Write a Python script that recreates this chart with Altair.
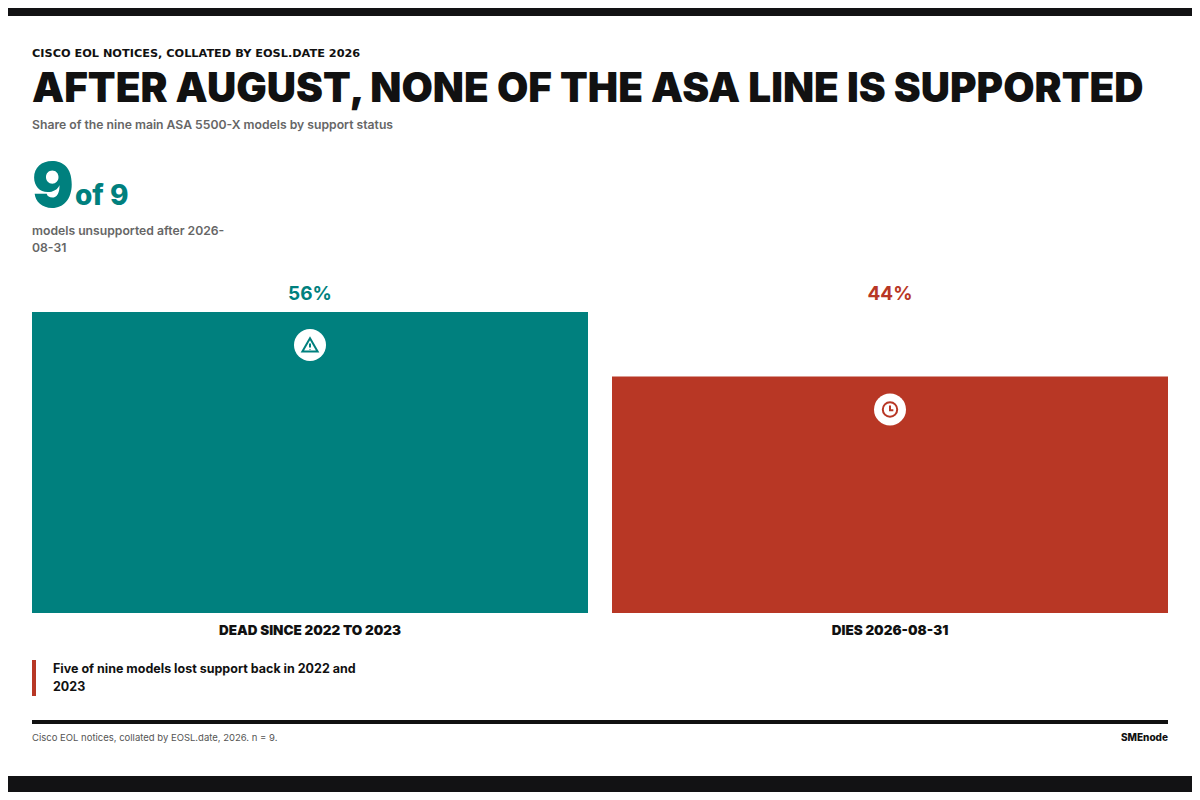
import sys
import traceback

import altair as alt
import pandas as pd

# --- data ---
categories = ["DEAD SINCE 2022 TO 2023", "DIES 2026-08-31"]
counts = [5, 4]
total_models = 9
unsupported = 9

kicker = "CISCO EOL NOTICES, COLLATED BY EOSL.DATE 2026"
headline = "AFTER AUGUST, NONE OF THE ASA LINE IS SUPPORTED"
subhead = "Share of the nine main ASA 5500-X models by support status"
stat_caption = ["models unsupported after 2026-", "08-31"]
note = ["Five of nine models lost support back in 2022 and", "2023"]
source = "Cisco EOL notices, collated by EOSL.date, 2026. n = 9."
brand = "SMEnode"

# --- style ---
TEAL = "#00807e"
RED = "#b83725"
INK = "#111111"
GREY = "#666666"
FONT = "Inter"
W, H = 1136, 301

bar_colors = alt.Scale(domain=categories, range=[TEAL, RED])
glyphs = {
    categories[0]: "M0,-0.85 L0.95,0.8 L-0.95,0.8 Z M0,-0.2 L0,0.3 M0,0.5 L0,0.56",
    categories[1]: "M-0.9,0 A0.9,0.9 0 1,0 0.9,0 A0.9,0.9 0 1,0 -0.9,0 "
                   "M0,-0.5 L0,0.08 L0.42,0.08",
}

df = pd.DataFrame({"status": categories, "count": counts})
# bars are drawn from the rounded percentages shown on the labels
df["share"] = [round(100 * c / total_models) for c in counts]
df["pct"] = [f"{s}%" for s in df["share"]]
df["glyph"] = df["status"].map(glyphs)


def build():
    x_enc = alt.X(
        "status:N",
        sort=categories,
        title=None,
        scale=alt.Scale(paddingInner=24 / 580, paddingOuter=0),
        axis=alt.Axis(
            labelAngle=0, domain=False, ticks=False, labelPadding=10,
            labelFont=FONT, labelFontSize=13.5, labelFontWeight=900,
            labelColor=INK, labelBaseline="top", labelLimit=0,
        ),
    )
    y_enc = alt.Y(
        "share:Q", axis=None,
        scale=alt.Scale(domain=[0, int(df["share"].max())], nice=False, zero=True),
    )
    color_enc = alt.Color("status:N", scale=bar_colors, legend=None)

    base = alt.Chart(df)
    bars = base.mark_bar().encode(x=x_enc, y=y_enc, color=color_enc)
    badge = base.mark_point(
        shape="circle", filled=True, fill="white", opacity=1, size=1024, yOffset=33
    ).encode(x=x_enc, y=y_enc)
    glyph = base.mark_point(filled=False, strokeWidth=2, size=256, yOffset=33, opacity=1).encode(
        x=x_enc, y=y_enc, shape=alt.Shape("glyph:N", scale=None), color=color_enc,
    )
    pct = base.mark_text(font=FONT, fontSize=19, fontWeight="bold", baseline="alphabetic").encode(
        x=x_enc, y=alt.value(-12), text="pct:N", color=color_enc,
    )

    def label(text, x, y, size, color=INK, weight="normal", align="left", font=FONT):
        return alt.Chart(pd.DataFrame({"t": [text]})).mark_text(
            font=font, fontSize=size, fontWeight=weight, color=color,
            align=align, baseline="alphabetic",
        ).encode(text="t:N", x=alt.value(x), y=alt.value(y))

    def block(x, x2, y, y2, color):
        return alt.Chart(pd.DataFrame({"a": [0]})).mark_rect(color=color).encode(
            x=alt.value(x), x2=alt.value(x2), y=alt.value(y), y2=alt.value(y2)
        )

    annotations = [
        block(-24, W + 24, -304, -296, "#121214"),
        block(-24, W + 24, 464, 480, "#121214"),
        label(kicker, 0, -255, 11.3, weight="bold", font="DejaVu Sans"),
        label(headline, 0, -210, 40.5, weight=900),
        label(subhead, 0, -183, 12.2, color=GREY, weight=600),
        label(str(unsupported), 0, -105, 62, color=TEAL, weight=900),
        label(f"of {total_models}", 43, -107, 28, color=TEAL, weight=800),
        label(stat_caption[0], 0, -77, 12.2, color=GREY, weight=600),
        label(stat_caption[1], 0, -60, 12.2, color=GREY, weight=600),
        block(0, 4, 348, 384, RED),
        label(note[0], 21, 361, 12.5, weight=700),
        label(note[1], 21, 379, 12.5, weight=700),
        block(0, W, 408, 412, INK),
        label(source, 0, 429, 9.5, color="#555555"),
        label(brand, W, 429, 10, weight=800, align="right"),
    ]

    return (
        alt.layer(bars, badge, glyph, pct, *annotations)
        .properties(
            width=W, height=H,
            autosize=alt.AutoSizeParams(type="none"),
            padding={"left": 24, "top": 304, "right": 24, "bottom": 179},
            background="white",
        )
        .configure_view(stroke=None)
    )


try:
    chart = build()
    chart.save("out.html", embed_options={"renderer": "svg", "actions": False})
except Exception as e:
    msg = str(e).splitlines()
    traceback.print_exc(limit=3, file=sys.stderr)
    sys.stderr.write("FIRST: " + " | ".join(msg[:4]) + "\n")
    raise SystemExit(1)
